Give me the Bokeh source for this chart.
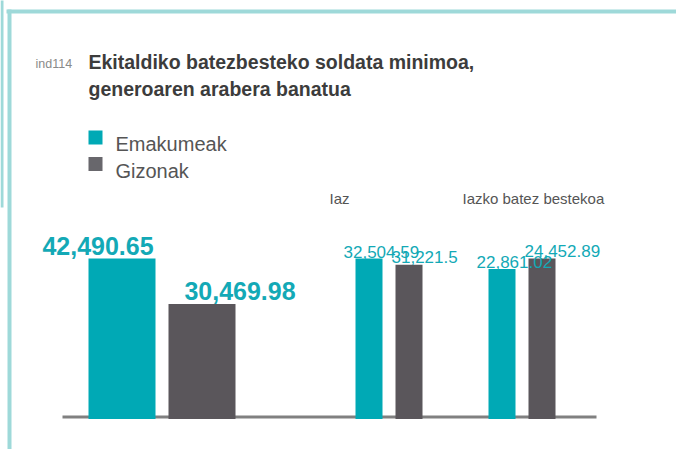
from bokeh.plotting import figure
from bokeh.models import Range1d
from bokeh.core.properties import value
from bokeh.embed import file_html
from bokeh.resources import INLINE

# ---- data ----
groups = ["", "Iaz", "Iazko batez bestekoa"]
emakumeak = [42490.65, 32504.59, 22861.02]
gizonak = [30469.98, 31221.5, 24452.89]
series_names = ["Emakumeak", "Gizonak"]
title_lines = ["Ekitaldiko batezbesteko soldata minimoa,", "generoaren arabera banatua"]
indicator = "ind114"

# ---- style / layout ----
FONT = value("Liberation Sans")
TEAL = "#00a9b5"
GRAY = "#5a565b"
LEGEND_GRAY = "#68676c"
LABEL_TEAL = "#13a9b6"
BORDER = "#9ed9d9"
TEXT_DARK = "#3c3c3c"
TEXT_MID = "#555555"

W, H = 676, 449
X0, Y0 = 0, 0  # data units == picture pixels

GROUP_X = [121.5, 368.5, 501.5]   # centre of the first bar of each group
GROUP_GAP = [80, 40, 40]          # distance to second bar
BAR_W = [67, 27, 27]
BASE_PX = 418.5
TOP_PX = 258.0

p = figure(width=W, height=H, output_backend="svg", toolbar_location=None,
           x_range=Range1d(X0, X0 + W), y_range=Range1d(Y0 + H, Y0),
           x_axis_type=None, y_axis_type=None, min_border=0,
           outline_line_color=None)
p.xgrid.visible = False
p.ygrid.visible = False
p.background_fill_color = "white"
p.border_fill_color = "white"

# frame
p.quad(left=[0], right=[3], top=[-5], bottom=[207], fill_color=BORDER, line_color=None)
p.quad(left=[6], right=[700], top=[9], bottom=[13], fill_color=BORDER, line_color=None)
p.quad(left=[7], right=[11], top=[9], bottom=[470], fill_color=BORDER, line_color=None)

# title
p.text(x=[35], y=[63], text=[indicator], text_font=FONT, text_font_size="12.5px",
       text_color="#8a8a8a", text_baseline="alphabetic")
p.text(x=[88, 88], y=[61, 88.5], text=title_lines, text_font=FONT, text_font_size="19.5px",
       text_font_style="bold", text_color=TEXT_DARK, text_baseline="alphabetic")

# legend
p.rect(x=[95, 95], y=[137, 163.5], width=14, height=14,
       fill_color=[TEAL, LEGEND_GRAY], line_color=None)
p.text(x=[115, 115], y=[143.3, 170], text=series_names, text_font=FONT,
       text_font_size="20px", text_color=TEXT_MID, text_baseline="alphabetic")

# axis line
p.line(x=[62, 596], y=[416.5, 416.5], line_color="#808080", line_width=3)

frame_span = H
for i, g in enumerate(groups):
    vals = [emakumeak[i], gizonak[i]]
    m = max(vals)
    span = m * frame_span / (BASE_PX - TOP_PX)
    start = -(Y0 + H - BASE_PX) * span / frame_span
    name = f"g{i}"
    p.extra_y_ranges[name] = Range1d(start, start + span)
    xs = [GROUP_X[i], GROUP_X[i] + GROUP_GAP[i]]
    p.vbar(x=xs, top=vals, bottom=0, width=BAR_W[i], fill_color=[TEAL, GRAY],
           line_color=None, y_range_name=name)
    labels = [f"{v:,}" for v in vals]
    if i == 0:
        p.text(x=xs, y=vals, text=labels, y_range_name=name, text_font=FONT,
               text_font_size="25px", text_font_style="bold", text_color=LABEL_TEAL,
               text_align="center", text_baseline="alphabetic",
               x_offset=[-24, 38], y_offset=[-13, -13])
    else:
        p.text(x=xs, y=vals, text=labels, y_range_name=name, text_font=FONT,
               text_font_size="17px", text_color=LABEL_TEAL,
               text_align="left", text_baseline="alphabetic",
               x_offset=[-BAR_W[i] / 2 - 12, -BAR_W[i] / 2 - 4], y_offset=[-7, -8])
        p.text(x=[GROUP_X[i] - BAR_W[i] / 2 - 26], y=[198], text=[g], text_font=FONT,
               text_font_size="15px", text_color=TEXT_MID, text_baseline="alphabetic")

open("out.html", "w").write(file_html(p, INLINE))
